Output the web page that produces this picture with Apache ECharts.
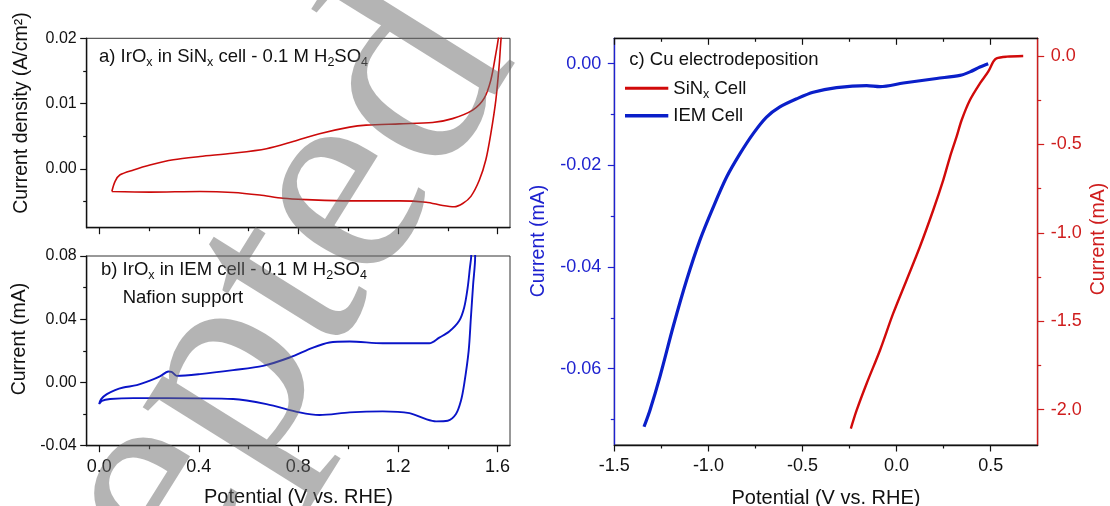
<!DOCTYPE html>
<html>
<head>
<meta charset="utf-8">
<script src="https://cdn.jsdelivr.net/npm/echarts@6/dist/echarts.min.js"></script>
<style>
html,body{margin:0;padding:0;background:#fff;}
#chart{width:1110px;height:506px;}
</style>
</head>
<body>
<div id="chart"></div>
<script>
// ---------- data ----------
// a) IrOx in SiNx cell : potential (V vs RHE) and current density (A/cm2), one CV loop
const aPotential = [0.051,0.064,0.084,0.138,0.204,0.298,0.405,0.538,0.672,0.779,0.885,1.006,1.072,1.206,1.339,1.419,1.500,1.546,1.573,1.593,1.603,1.640,1.614,1.607,1.593,1.573,1.553,1.527,1.493,1.460,1.426,1.380,1.313,1.206,1.006,0.832,0.739,0.645,0.538,0.405,0.204,0.051];
const aCurrent   = [-0.00345,-0.0019,-0.0009,-0.00015,0.0006,0.0014,0.0019,0.0024,0.0031,0.0042,0.0054,0.0064,0.0067,0.0069,0.0071,0.0077,0.0090,0.0108,0.0136,0.0176,0.0199,0.0300,0.0199,0.0161,0.0105,0.0054,0.0014,-0.0017,-0.0042,-0.0053,-0.0058,-0.0056,-0.0051,-0.0049,-0.0049,-0.0047,-0.0045,-0.0040,-0.0036,-0.00345,-0.00355,-0.00345];
// b) IrOx in IEM cell : potential (V vs RHE) and current (mA)
const bPotential = [0,0.008,0.031,0.064,0.097,0.151,0.204,0.244,0.278,0.291,0.311,0.405,0.538,0.658,0.765,0.859,0.925,1.006,1.139,1.326,1.366,1.406,1.446,1.466,1.480,1.489,1.494,1.505,1.510,1.502,1.493,1.484,1.466,1.453,1.433,1.400,1.353,1.313,1.246,1.139,1.006,0.885,0.805,0.672,0.538,0.271,0.138,0.044,0.011,0];
const bCurrent   = [-0.0137,-0.0105,-0.0074,-0.0048,-0.0032,-0.0017,0.0011,0.0038,0.0069,0.0067,0.0042,0.0053,0.0078,0.0105,0.0158,0.0221,0.0253,0.0259,0.0248,0.0248,0.0284,0.0322,0.0390,0.0474,0.0600,0.0726,0.0794,0.1200,0.0794,0.0621,0.0411,0.0200,-0.0011,-0.0116,-0.0200,-0.0242,-0.0246,-0.0232,-0.0194,-0.0183,-0.0189,-0.0206,-0.0189,-0.0137,-0.0105,-0.0099,-0.0099,-0.0105,-0.0116,-0.0137];
// c) Cu electrodeposition, IEM cell (left axis, mA)
const iemPotential = [0.487,0.443,0.390,0.337,0.213,0.036,-0.088,-0.159,-0.319,-0.443,-0.531,-0.620,-0.691,-0.761,-0.832,-0.903,-0.974,-1.045,-1.116,-1.187,-1.257,-1.310,-1.342];
const iemCurrent   = [0.0,-0.00065,-0.0016,-0.0023,-0.0029,-0.0038,-0.0045,-0.0043,-0.0047,-0.0056,-0.0069,-0.0085,-0.0105,-0.0137,-0.0177,-0.0223,-0.0282,-0.0347,-0.0426,-0.0517,-0.0615,-0.0681,-0.0714];
// c) Cu electrodeposition, SiNx cell (right axis, mA)
const sinPotential = [0.673,0.585,0.531,0.514,0.487,0.443,0.390,0.346,0.319,0.284,0.248,0.195,0.124,0.053,-0.018,-0.088,-0.159,-0.212,-0.243];
const sinCurrent   = [0.0,-0.0038,-0.013,-0.032,-0.089,-0.155,-0.249,-0.362,-0.456,-0.570,-0.702,-0.871,-1.079,-1.268,-1.456,-1.664,-1.852,-2.003,-2.107];

// tick values
const cvXTicks  = [0, 0.4, 0.8, 1.2, 1.6];
const cvXMinor  = [0.2, 0.6, 1.0, 1.4];
const aYTicks   = [0, 0.01, 0.02];
const aYMinor   = [-0.005, 0.005, 0.015];
const bYTicks   = [-0.04, 0, 0.04, 0.08];
const bYMinor   = [-0.02, 0.02, 0.06];
const cXTicks   = [-1.5, -1.0, -0.5, 0, 0.5];
const cXMinor   = [-1.25, -0.75, -0.25, 0.25];
const cLTicks   = [-0.06, -0.04, -0.02, 0];
const cLMinor   = [-0.07, -0.05, -0.03, -0.01];
const cRTicks   = [-2.0, -1.5, -1.0, -0.5, 0];
const cRMinor   = [-1.75, -1.25, -0.75, -0.25];

// ---------- styling ----------
const FONT = '"Liberation Sans", Arial, Helvetica, sans-serif';
const BLACK = '#111';
const BLUE_AX = '#1e22cf';
const RED_AX = '#cf1d1d';

function zip(a, b) { return a.map((v, i) => [v, b[i]]); }

function axis(o) {
  const major = !o.minor;
  return {
    type: 'value', gridIndex: o.grid, position: o.position,
    min: o.min, max: o.max, z: 5,
    axisLine: { show: major, onZero: false, lineStyle: { color: o.color || BLACK, width: 1.4 } },
    axisTick: { show: true, inside: !!o.inside, length: major ? 6.5 : 3.5, customValues: o.ticks,
                lineStyle: { color: o.color || BLACK, width: 1.2 } },
    axisLabel: o.labels ? { show: true, customValues: o.ticks, margin: o.margin, fontSize: o.fontSize,
                fontFamily: FONT, color: o.color || BLACK, formatter: v => Number(v).toFixed(o.dec) } : { show: false },
    splitLine: { show: false }
  };
}

const xAxes = [
  axis({ grid: 0, position: 'bottom', min: -0.05, max: 1.65, ticks: cvXTicks }),
  axis({ grid: 0, position: 'bottom', min: -0.05, max: 1.65, ticks: cvXMinor, minor: true }),
  axis({ grid: 1, position: 'bottom', min: -0.05, max: 1.65, ticks: cvXTicks, labels: true, dec: 1, margin: 12, fontSize: 18 }),
  axis({ grid: 1, position: 'bottom', min: -0.05, max: 1.65, ticks: cvXMinor, minor: true }),
  axis({ grid: 2, position: 'bottom', min: -1.5, max: 0.75, ticks: cXTicks, labels: true, dec: 1, margin: 12, fontSize: 18 }),
  axis({ grid: 2, position: 'bottom', min: -1.5, max: 0.75, ticks: cXMinor, minor: true }),
  axis({ grid: 2, position: 'top', min: -1.5, max: 0.75, ticks: cXTicks, inside: true }),
  axis({ grid: 2, position: 'top', min: -1.5, max: 0.75, ticks: cXMinor, inside: true, minor: true })
];
const yAxes = [
  axis({ grid: 0, position: 'left', min: -0.009, max: 0.02, ticks: aYTicks, labels: true, dec: 2, margin: 10, fontSize: 16 }),
  axis({ grid: 0, position: 'left', min: -0.009, max: 0.02, ticks: aYMinor, minor: true }),
  axis({ grid: 1, position: 'left', min: -0.04, max: 0.08, ticks: bYTicks, labels: true, dec: 2, margin: 10, fontSize: 16 }),
  axis({ grid: 1, position: 'left', min: -0.04, max: 0.08, ticks: bYMinor, minor: true }),
  axis({ grid: 2, position: 'left', min: -0.075, max: 0.005, ticks: cLTicks, labels: true, dec: 2, margin: 13, fontSize: 18, color: BLUE_AX }),
  axis({ grid: 2, position: 'left', min: -0.075, max: 0.005, ticks: cLMinor, minor: true, color: BLUE_AX }),
  axis({ grid: 2, position: 'right', min: -2.2, max: 0.1, ticks: cRTicks, labels: true, dec: 1, margin: 13, fontSize: 18, color: RED_AX }),
  axis({ grid: 2, position: 'right', min: -2.2, max: 0.1, ticks: cRMinor, minor: true, color: RED_AX })
];

// texts
function txt(x, y, text, size, color, align) {
  return { type: 'text', x: x, y: y, z: 50, silent: true,
    style: { text: text, fontFamily: FONT, fontSize: size, fill: color || BLACK, align: align || 'left', verticalAlign: 'middle' } };
}
function rotTxt(x, y, text, size, color) {
  return { type: 'text', x: x, y: y, rotation: Math.PI / 2, z: 50, silent: true,
    style: { text: text, fontFamily: FONT, fontSize: size, fill: color, align: 'center', verticalAlign: 'middle' } };
}
const richStyles = {
  n: { fontFamily: FONT, fontSize: 18.5, lineHeight: 24, fill: BLACK, verticalAlign: 'middle' },
  s: { fontFamily: FONT, fontSize: 12.5, lineHeight: 12, fill: BLACK, verticalAlign: 'bottom' }
};
function richTxt(x, y, text) {
  return { type: 'text', x: x, y: y, z: 50, silent: true,
    style: { text: text, rich: richStyles, fontFamily: FONT, fontSize: 18.5, fill: BLACK, align: 'left', verticalAlign: 'top' } };
}

// watermark (serif, semi-transparent, rotated)
const WM_ANGLE = 58 * Math.PI / 180;

const graphics = [
  rotTxt(21.5, 113, 'Current density (A/cm²)', 19.5, BLACK),
  rotTxt(20, 339, 'Current (mA)', 19.5, BLACK),
  rotTxt(539, 241, 'Current (mA)', 19.5, BLUE_AX),
  rotTxt(1099, 239, 'Current (mA)', 19.5, RED_AX),
  txt(298.5, 497, 'Potential (V vs. RHE)', 20, BLACK, 'center'),
  txt(826, 498, 'Potential (V vs. RHE)', 20, BLACK, 'center'),
  richTxt(99, 45, '{n|a) IrO}{s|x}{n| in SiN}{s|x}{n| cell - 0.1 M H}{s|2}{n|SO}{s|4}'),
  richTxt(101, 258, '{n|b) IrO}{s|x}{n| in IEM cell - 0.1 M H}{s|2}{n|SO}{s|4}'),
  txt(122.7, 298, 'Nafion support', 18.5, BLACK),
  txt(629.3, 60, 'c) Cu electrodeposition', 18.5, BLACK),
  { type: 'line', z: 50, silent: true, shape: { x1: 625, y1: 88.3, x2: 668.3, y2: 88.3 }, style: { stroke: '#d10a0a', lineWidth: 3 } },
  { type: 'line', z: 50, silent: true, shape: { x1: 625, y1: 115.7, x2: 668.3, y2: 115.7 }, style: { stroke: '#0a1fc9', lineWidth: 3.5 } },
  richTxt(673.3, 77, '{n|SiN}{s|x}{n| Cell}'),
  txt(673.3, 116, 'IEM Cell', 18.5, BLACK),
  { type: 'text', x: -128, y: 948, rotation: WM_ANGLE, z: 100, silent: true,
    style: { text: 'Accepted Manuscript', fontFamily: '"Liberation Serif", "Times New Roman", serif',
             fontSize: 290, fill: 'rgba(105,105,105,0.5)', align: 'left', verticalAlign: 'middle' } }
];

const chart = echarts.init(document.getElementById('chart'), null, { renderer: 'canvas' });
chart.setOption({
  animation: false,
  backgroundColor: '#fff',
  grid: [
    { left: 86.7, top: 38.3, width: 423.3, height: 189.4, show: true, borderColor: '#333', borderWidth: 1, backgroundColor: 'transparent' },
    { left: 86.7, top: 256, width: 423.3, height: 189.7, show: true, borderColor: '#333', borderWidth: 1, backgroundColor: 'transparent' },
    { left: 614.3, top: 38.3, width: 423.4, height: 406.7, show: true, borderColor: '#333', borderWidth: 1, backgroundColor: 'transparent' }
  ],
  xAxis: xAxes,
  yAxis: yAxes,
  series: [
    { name: 'a', type: 'line', xAxisIndex: 0, yAxisIndex: 0, data: zip(aPotential, aCurrent), showSymbol: false, smooth: 0.3,
      lineStyle: { color: '#cc0a0a', width: 1.6 }, clip: true, z: 3 },
    { name: 'b', type: 'line', xAxisIndex: 2, yAxisIndex: 2, data: zip(bPotential, bCurrent), showSymbol: false, smooth: 0.3,
      lineStyle: { color: '#0a14c8', width: 1.9 }, clip: true, z: 3 },
    { name: 'IEM Cell', type: 'line', xAxisIndex: 4, yAxisIndex: 4, data: zip(iemPotential, iemCurrent), showSymbol: false, smooth: 0.3,
      lineStyle: { color: '#0a1fc9', width: 3.2 }, clip: true, z: 3 },
    { name: 'SiNx Cell', type: 'line', xAxisIndex: 4, yAxisIndex: 6, data: zip(sinPotential, sinCurrent), showSymbol: false, smooth: 0.3,
      lineStyle: { color: '#d10a0a', width: 2.4 }, clip: true, z: 3 }
  ],
  graphic: graphics
});
</script>
</body>
</html>
